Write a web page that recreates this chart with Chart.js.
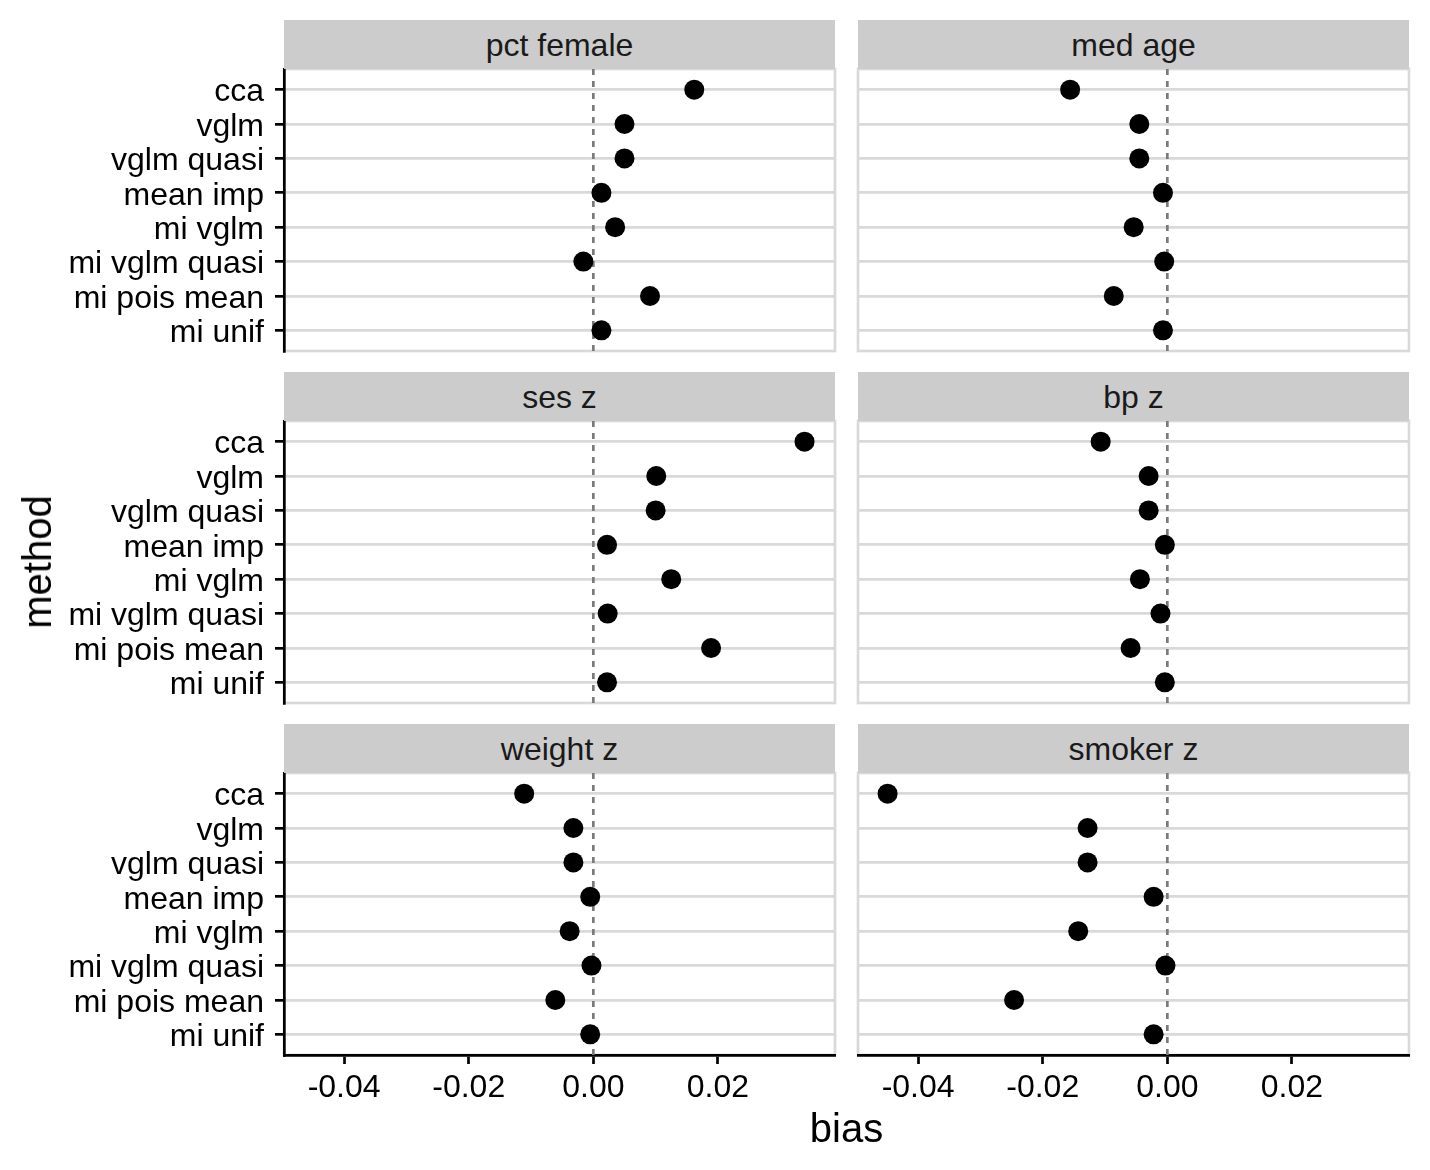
<!DOCTYPE html>
<html>
<head>
<meta charset="utf-8">
<script src="https://cdn.jsdelivr.net/npm/chart.js@4.4.1/dist/chart.umd.min.js"></script>
<style>
  html, body { margin: 0; padding: 0; background: #fff; }
  body {
    width: 1430px; height: 1170px; position: relative; overflow: hidden;
    font-family: "Liberation Sans", Arial, Helvetica, sans-serif;
  }
  .strip {
    position: absolute; background: #cccccc; color: #1a1a1a; font-size: 32px;
    display: flex; align-items: center; justify-content: center;
    box-sizing: border-box; padding-top: 2px;
  }
  .panel { position: absolute; }
  .axis-title { position: absolute; font-size: 40px; color: #000; white-space: nowrap; line-height: 1; }
</style>
</head>
<body>
<div id="root"></div>
<div class="axis-title" id="xTitle">bias</div>
<div class="axis-title" id="yTitle">method</div>
<script>
// 1. DATA
const methods = ['cca', 'vglm', 'vglm quasi', 'mean imp', 'mi vglm', 'mi vglm quasi', 'mi pois mean', 'mi unif'];
const panelNames = ['pct female', 'med age', 'ses z', 'bp z', 'weight z', 'smoker z'];

const pctFemale = [0.0162, 0.0050, 0.0050, 0.0013, 0.0035, -0.0016, 0.0091, 0.0013];
const medAge    = [-0.0156, -0.0045, -0.0045, -0.0007, -0.0054, -0.0005, -0.0086, -0.0007];
const sesZ      = [0.0339, 0.0101, 0.0100, 0.0022, 0.0125, 0.0023, 0.0189, 0.0022];
const bpZ       = [-0.0107, -0.0030, -0.0030, -0.0004, -0.0044, -0.0011, -0.0059, -0.0004];
const weightZ   = [-0.0111, -0.0032, -0.0032, -0.0005, -0.0038, -0.0003, -0.0061, -0.0005];
const smokerZ   = [-0.0449, -0.0128, -0.0128, -0.0022, -0.0143, -0.0003, -0.0246, -0.0022];

const panelValues = [pctFemale, medAge, sesZ, bpZ, weightZ, smokerZ];
const xTicks = [-0.04, -0.02, 0, 0.02];
const xMin = -0.04965;
const xMax = 0.03879;

// 2. LAYOUT
const colLeft = [284, 858];
const rowTop = [69, 421, 773];
const panelW = 551;
const panelH = 282;
const stripH = 49;
const pad = 6;
const yAxisW = 284;
const xAxisH = 110;
const LINE = 2.7;

Chart.defaults.font.family = '"Liberation Sans", Arial, Helvetica, sans-serif';
Chart.defaults.font.size = 32;
Chart.defaults.color = '#000';

// grey panel border, drawn under grid and axis lines
const panelBorder = {
  id: 'panelBorder',
  beforeDraw(chart) {
    const { ctx, chartArea: a } = chart;
    ctx.save();
    ctx.strokeStyle = '#d9d9d9';
    ctx.lineWidth = LINE;
    ctx.strokeRect(a.left, a.top, a.right - a.left, a.bottom - a.top);
    ctx.restore();
  }
};

const root = document.getElementById('root');

function buildPanel(idx) {
  const row = Math.floor(idx / 2);
  const col = idx % 2;
  const isLeft = col === 0;
  const isBottom = row === 2;

  // strip
  const strip = document.createElement('div');
  strip.className = 'strip';
  strip.style.left = colLeft[col] + 'px';
  strip.style.top = (rowTop[row] - stripH) + 'px';
  strip.style.width = panelW + 'px';
  strip.style.height = stripH + 'px';
  strip.textContent = panelNames[idx];

  // canvas
  const canvasLeft = isLeft ? 0 : colLeft[col] - pad;
  const canvasTop = rowTop[row] - pad;
  const w = isLeft ? colLeft[col] + panelW + pad : panelW + 2 * pad;
  const h = panelH + pad + (isBottom ? xAxisH : pad);

  const wrap = document.createElement('div');
  wrap.className = 'panel';
  wrap.style.left = canvasLeft + 'px';
  wrap.style.top = canvasTop + 'px';
  const canvas = document.createElement('canvas');
  canvas.width = w;
  canvas.height = h;
  canvas.style.width = w + 'px';
  canvas.style.height = h + 'px';
  wrap.appendChild(canvas);
  root.appendChild(wrap);
  root.appendChild(strip);

  const vals = panelValues[idx];
  const points = methods.map((m, i) => ({ x: vals[i], y: i }));

  new Chart(canvas.getContext('2d'), {
    type: 'scatter',
    data: {
      datasets: [
        {
          data: points,
          pointRadius: 10,
          pointHoverRadius: 10,
          pointBackgroundColor: '#000',
          pointBorderWidth: 0
        },
        {
          data: [{ x: 0, y: -0.6 }, { x: 0, y: methods.length - 0.4 }],
          showLine: true,
          borderColor: '#7a7a7a',
          borderWidth: LINE,
          borderDash: [6, 6],
          pointRadius: 0,
          pointHoverRadius: 0
        }
      ]
    },
    options: {
      responsive: false,
      animation: false,
      events: [],
      layout: {
        autoPadding: false,
        padding: {
          left: isLeft ? 0 : pad,
          right: pad,
          top: pad,
          bottom: isBottom ? 0 : pad
        }
      },
      plugins: { legend: { display: false }, tooltip: { enabled: false } },
      scales: {
        x: {
          type: 'linear',
          display: isBottom,
          min: xMin,
          max: xMax,
          afterBuildTicks: (scale) => { scale.ticks = xTicks.map(v => ({ value: v })); },
          afterFit: (scale) => {
            scale.height = isBottom ? xAxisH : 0;
            scale.paddingLeft = 0; scale.paddingRight = 0;
          },
          grid: {
            drawOnChartArea: false,
            drawTicks: true,
            tickLength: 9,
            tickColor: '#000',
            tickWidth: LINE
          },
          border: { display: true, color: '#000', width: LINE },
          ticks: {
            padding: 5,
            maxRotation: 0,
            autoSkip: false,
            color: '#000',
            callback: (v) => Number(v).toFixed(2)
          }
        },
        y: {
          type: 'linear',
          reverse: true,
          min: -0.6,
          max: methods.length - 0.4,
          afterBuildTicks: (scale) => { scale.ticks = methods.map((m, i) => ({ value: i })); },
          afterFit: (scale) => {
            scale.width = isLeft ? yAxisW : 0;
            scale.paddingTop = 0; scale.paddingBottom = 0;
          },
          grid: {
            color: '#d9d9d9',
            lineWidth: LINE,
            drawTicks: isLeft,
            tickLength: 9,
            tickColor: '#000',
            tickWidth: LINE
          },
          border: { display: isLeft, color: '#000', width: LINE },
          ticks: {
            display: isLeft,
            autoSkip: false,
            padding: 11,
            labelOffset: 3,
            color: '#000',
            callback: (v) => methods[v]
          }
        }
      }
    },
    plugins: [panelBorder]
  });
}

panelNames.forEach((name, i) => buildPanel(i));

// axis titles
const xTitle = document.getElementById('xTitle');
xTitle.style.left = (colLeft[0] + (colLeft[1] + panelW - colLeft[0]) / 2) + 'px';
xTitle.style.top = '1128px';
xTitle.style.transform = 'translate(-50%, -50%)';

const yTitle = document.getElementById('yTitle');
yTitle.style.left = '37px';
yTitle.style.top = ((rowTop[0] + rowTop[2] + panelH) / 2) + 'px';
yTitle.style.transform = 'translate(-50%, -50%) rotate(-90deg)';
</script>
</body>
</html>
